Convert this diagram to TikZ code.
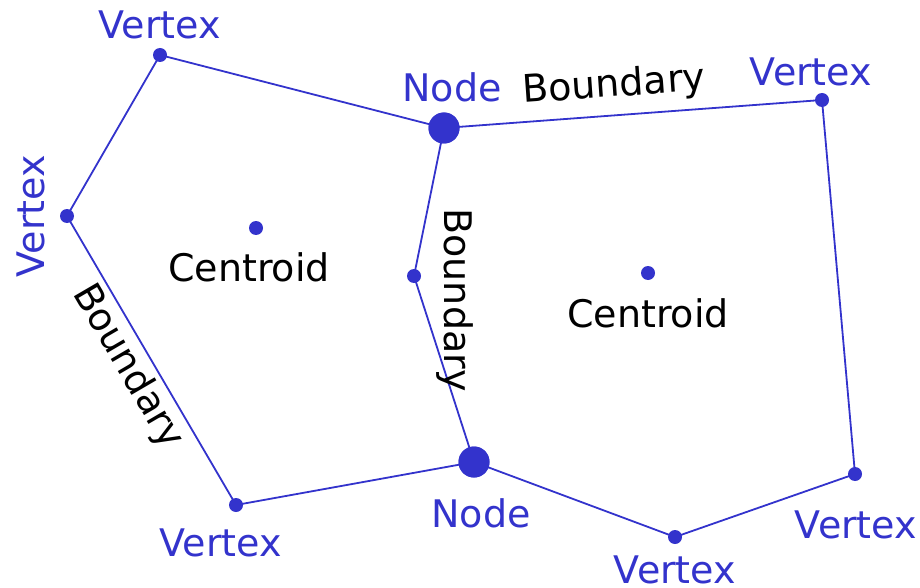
\documentclass[tikz,border=0pt]{standalone}
\usepackage{fontspec}
\setmainfont{DejaVu Sans}
\definecolor{mblue}{HTML}{3333CC}
\begin{document}
\begin{tikzpicture}[x=1pt,y=-1pt,
  edge/.style={draw=mblue,line width=1.8pt},
  vdot/.style={circle,fill=mblue,inner sep=0pt,minimum size=14pt},
  ndot/.style={circle,fill=mblue,inner sep=0pt,minimum size=31pt},
  blab/.style={text=mblue,font=\fontsize{38}{45}\selectfont,inner sep=0pt},
  klab/.style={text=black,font=\fontsize{38}{45}\selectfont,inner sep=0pt}]
\useasboundingbox (0,0) rectangle (920,588);
% points
\node[vdot] (v1) at (160,55) {};
\node[ndot] (n1) at (444,128) {};
\node[vdot] (v2) at (822,100) {};
\node[vdot] (v3) at (67,216) {};
\node[vdot] (c1) at (256,228) {};
\node[vdot] (m) at (414,276) {};
\node[vdot] (c2) at (648,273) {};
\node[ndot] (n2) at (474,462) {};
\node[vdot] (v4) at (236,505) {};
\node[vdot] (v5) at (675,537) {};
\node[vdot] (v6) at (855,474) {};
% edges
\draw[edge] (v1.center) -- (n1.center) -- (v2.center) -- (v6.center) -- (v5.center) -- (n2.center) -- (v4.center) -- (v3.center) -- (v1.center);
\draw[edge] (n1.center) -- (m.center) -- (n2.center);
\node[ndot] at (n1) {};
\node[ndot] at (n2) {};
% labels
\node[blab] (lv1) at (160,25) {Vertex};
\node[blab] (ln1) at (452,87) {Node};
\node[blab] (lv2) at (811,72) {Vertex};
\node[blab,rotate=90] (lv3) at (31,216) {Vertex};
\node[klab] (lc1) at (249,267) {Centroid};
\node[klab] (lc2) at (648,313) {Centroid};
\node[blab] (ln2) at (481,513) {Node};
\node[blab] (lv4) at (221,543) {Vertex};
\node[blab] (lv5) at (675,570) {Vertex};
\node[blab] (lv6) at (856,525) {Vertex};
\node[klab,rotate=4] (b1) at (614,86) {Boundary};
\node[klab,rotate=-90] (b2) at (455,300) {Boundary};
\node[klab,rotate=-59.7] (b3) at (128,367) {Boundary};
\end{tikzpicture}
\end{document}
